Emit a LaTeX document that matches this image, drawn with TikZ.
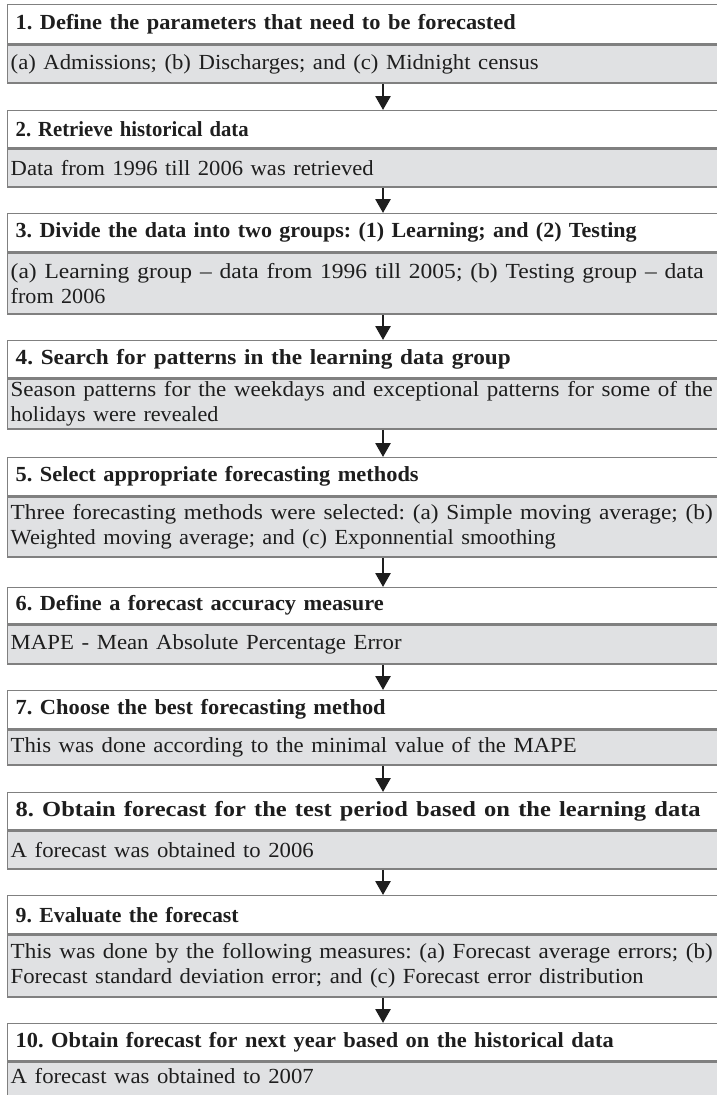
\documentclass[tikz,border=0pt]{standalone}
\usepackage{graphicx}
\usepackage{fontspec}
\setmainfont{Liberation Serif}
\usetikzlibrary{arrows.meta}
\definecolor{boxgray}{HTML}{E0E1E3}
\definecolor{edgegray}{HTML}{808080}
\definecolor{ink}{HTML}{1E1E1E}
% one line of text stretched to a set width, height kept
\newcommand{\fitto}[2]{\resizebox{#1pt}{\height}{#2}}
% one line of text with the usual horizontal stretch
\newcommand{\wide}[1]{\scalebox{1.03}[1]{#1}}
\tikzset{
  panel/.style={draw=edgegray, line width=1.4pt, anchor=north west,
    minimum width=760pt, text width=748pt, align=left, text=ink,
    inner ysep=0pt},
  hdr/.style={panel, fill=white, inner xsep=8pt,
    font=\fontsize{21.5}{25}\selectfont\bfseries\frenchspacing},
  bdy/.style={panel, fill=boxgray, inner xsep=3pt, text width=754pt,
    font=\fontsize{21.5}{25}\selectfont\frenchspacing},
  arr/.style={-{Triangle[length=14pt,width=15pt]}, line width=2.7pt, draw=ink}
}
\begin{document}
\begin{tikzpicture}[x=1pt,y=-1pt]
\useasboundingbox (0,0) rectangle (717,1095);
\coordinate (ax) at (383,0);

\node[hdr, minimum height=39pt] (h1) at (7,4) {\fitto{500}{1. Define the parameters that need to be forecasted}};
\node[bdy, minimum height=38pt] (b1) at (h1.south west) {\fitto{528}{(a) Admissions; (b) Discharges; and (c) Midnight census}};

\node[hdr, minimum height=37pt] (h2) at (7,110) {\fitto{233}{2. Retrieve historical data}};
\node[bdy, minimum height=38pt] (b2) at (h2.south west) {\fitto{363}{Data from 1996 till 2006 was retrieved}};

\node[hdr, minimum height=38pt] (h3) at (7,213) {\fitto{621}{3. Divide the data into two groups: (1) Learning; and (2) Testing}};
\node[bdy, minimum height=61pt] (b3) at (h3.south west) {\fitto{693}{(a) Learning group -- data from 1996 till 2005; (b) Testing group -- data}\\\wide{from 2006}};

\node[hdr, minimum height=37pt] (h4) at (7,340) {\fitto{495}{4. Search for patterns in the learning data group}};
\node[bdy, minimum height=50pt] (b4) at (h4.south west) {\fitto{702}{Season patterns for the weekdays and exceptional patterns for some of the}\\\wide{holidays were revealed}};

\node[hdr, minimum height=38pt] (h5) at (7,457) {\fitto{403}{5. Select appropriate forecasting methods}};
\node[bdy, minimum height=60pt] (b5) at (h5.south west) {\fitto{702}{Three forecasting methods were selected: (a) Simple moving average; (b)}\\\fitto{545}{Weighted moving average; and (c) Exponnential smoothing}};

\node[hdr, minimum height=36pt] (h6) at (7,587) {\fitto{368}{6. Define a forecast accuracy measure}};
\node[bdy, minimum height=39pt] (b6) at (h6.south west) {\fitto{391}{MAPE - Mean Absolute Percentage Error}};

\node[hdr, minimum height=38pt] (h7) at (7,690) {\fitto{370}{7. Choose the best forecasting method}};
\node[bdy, minimum height=35pt] (b7) at (h7.south west) {\fitto{566}{This was done according to the minimal value of the MAPE}};

\node[hdr, minimum height=37pt] (h8) at (7,792) {\fitto{685}{8. Obtain forecast for the test period based on the learning data}};
\node[bdy, minimum height=38pt] (b8) at (h8.south west) {\fitto{303}{A forecast was obtained to 2006}};

\node[hdr, minimum height=38pt] (h9) at (7,895) {\fitto{223}{9. Evaluate the forecast}};
\node[bdy, minimum height=62pt] (b9) at (h9.south west) {\fitto{702}{This was done by the following measures: (a) Forecast average errors; (b)}\\\fitto{633}{Forecast standard deviation error; and (c) Forecast error distribution}};

\node[hdr, minimum height=37pt] (h10) at (7,1023) {\fitto{598}{10. Obtain forecast for next year based on the historical data}};
\node[bdy, minimum height=60pt] (b10) at (h10.south west) {\fitto{303}{A forecast was obtained to 2007}\\\strut};

\foreach \a/\b in {b1/h2,b2/h3,b3/h4,b4/h5,b5/h6,b6/h7,b7/h8,b8/h9,b9/h10}
  \draw[arr] (\a.south -| ax) -- (\b.north -| ax);
\end{tikzpicture}
\end{document}
